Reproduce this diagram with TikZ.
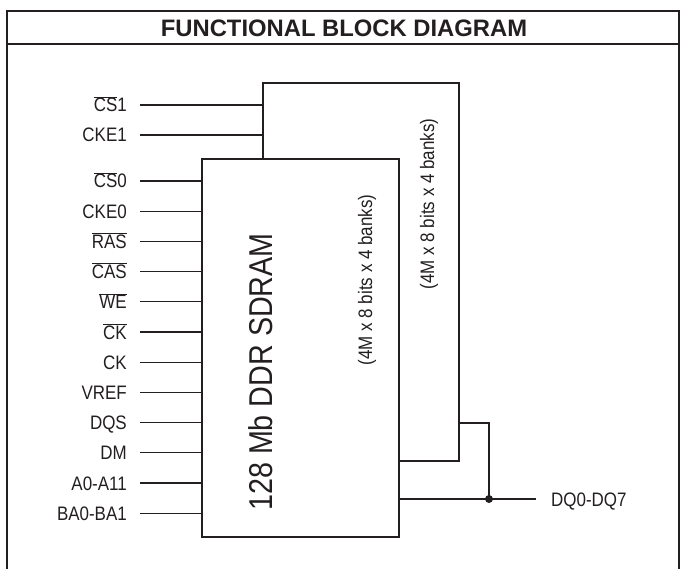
\documentclass[tikz,border=0pt]{standalone}
\usepackage{fontspec}
\setmainfont[FakeStretch=0.87]{Liberation Sans}
\newfontfamily\titlefont{Liberation Sans}
\definecolor{ink}{HTML}{231F20}
\newcommand\ovl[1]{$\overline{\mbox{#1}}$}
\begin{document}
\begin{tikzpicture}[x=1pt,y=-1pt,line join=miter,
  frame/.style={draw=ink,line width=2.6pt},
  chip/.style={draw=ink,fill=white,line width=2.2pt,inner sep=0pt},
  wire/.style={draw=ink,line width=1.3pt},
  pin/.style={anchor=east,inner sep=0pt,text height=14pt,text depth=0pt,text=ink,
    font=\fontsize{19.5}{22}\selectfont},
  note/.style={rotate=90,inner sep=0pt,text=ink}]
\useasboundingbox (0,0) rectangle (682,569);
% outer frame and title
\draw[frame] (7,569) -- (7,11) -- (679,11) -- (679,569);
\draw[frame] (7,44) -- (679,44);
\node[text=ink,font=\titlefont\bfseries\fontsize{23.8}{26}\selectfont] (title) at (344,28) {FUNCTIONAL BLOCK DIAGRAM};
% the two devices
\node[chip,minimum width=196pt,minimum height=378pt] (back) at (361,272) {};
\node[chip,minimum width=197pt,minimum height=378pt] (front) at (300.5,348) {};
\node[note,font=\fontsize{33}{35}\selectfont] (name) at (261,372) {128 Mb DDR SDRAM};
\node[note,font=\fontsize{19.5}{22}\selectfont] (org0) at (367,280) {(4M x 8 bits x 4 banks)};
\node[note,font=\fontsize{19.5}{22}\selectfont] (org1) at (429,204) {(4M x 8 bits x 4 banks)};
% inputs of the back device
\node[pin] (cs1) at (127,105) {\ovl{CS}1};
\node[pin] (cke1) at (127,135) {CKE1};
\draw[wire] ([xshift=13pt]cs1.east) -- (cs1 -| back.west);
\draw[wire] ([xshift=13pt]cke1.east) -- (cke1 -| back.west);
% inputs of the front device
\foreach \lbl [count=\i from 0] in {{\ovl{CS}0},CKE0,{\ovl{RAS}},{\ovl{CAS}},{\ovl{WE}},{\ovl{CK}},CK,VREF,DQS,DM,A0-A11,BA0-BA1}{
  \node[pin] (p\i) at (127,{181+30.2*\i}) {\lbl};
  \draw[wire] ([xshift=13pt]p\i.east) -- (p\i -| front.west);
}
% data bus
\node[pin,anchor=west] (dq) at (551,499) {DQ0-DQ7};
\coordinate (dot) at (489,499);
\coordinate (bq) at (459,423);
\draw[wire] (front.east |- dq) -- ([xshift=-15pt]dq.west);
\draw[wire] (bq) -| (dot);
\fill[ink] (dot) circle (4);
\end{tikzpicture}
\end{document}
